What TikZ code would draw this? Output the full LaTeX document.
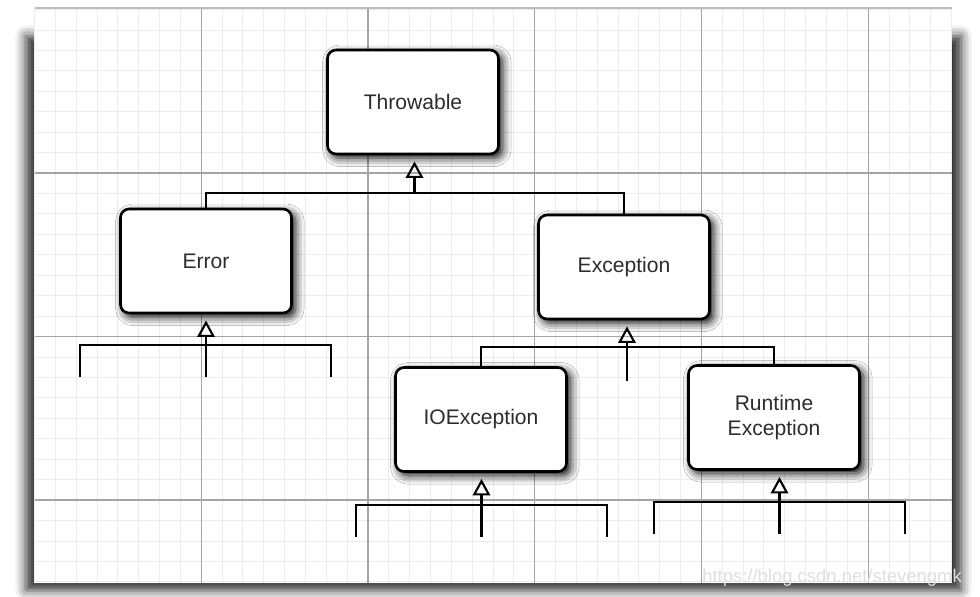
\documentclass[tikz,border=0pt]{standalone}
\usepackage{fontspec}
\setmainfont{Liberation Sans}
\usepackage{xcolor}
\definecolor{gridminor}{RGB}{236,236,236}
\definecolor{gridmajor}{RGB}{165,165,165}
\definecolor{inktext}{RGB}{45,45,45}
\usepackage{tikz}
\usetikzlibrary{arrows.meta, positioning, shadows.blur}

\begin{document}
\begin{tikzpicture}[
  x=0.02cm, y=-0.02cm,
  cls/.style={rectangle, rounded corners=0.17cm, draw=black, line width=1.5pt, fill=white,
    minimum width=3.42cm, minimum height=2.08cm, align=center, text=inktext,
    font=\fontsize{12}{14.5}\selectfont,
    blur shadow={shadow xshift=2.2pt, shadow yshift=-2.2pt, shadow blur radius=5pt, shadow opacity=100}},
  tree/.style={line width=1.2pt, draw=black},
  inherit/.style={tree, -{Triangle[open, length=0.33cm, width=0.35cm, line width=1.2pt]}, shorten >=3.5pt},
  minorline/.style={gridminor, line width=0.5pt},
  majorline/.style={gridmajor, line width=0.7pt}
]
\useasboundingbox (0,0) rectangle (980,596);

% Sheet shadow, sheet and grid
\path[blur shadow={shadow xshift=0pt, shadow yshift=0pt, shadow blur radius=6pt, shadow opacity=85}]
  (26,36) rectangle (961,590);
\fill[white] (35,8) rectangle (952,583);
\foreach \i in {0,...,44} \draw[minorline] ({34.5+\i*20.84},8) -- ({34.5+\i*20.84},583);
\foreach \j in {0,...,28} \draw[minorline] (35,{9.5+\j*20.44}) -- (952,{9.5+\j*20.44});
\foreach \i in {1,...,5} \draw[majorline] ({34.5+\i*166.75},8) -- ({34.5+\i*166.75},583);
\foreach \j in {1,...,3} \draw[majorline] (35,{9.5+\j*163.5}) -- (952,{9.5+\j*163.5});
\draw[gray!50, line width=0.6pt] (35,8) -- (952,8);

% Classes
\node[cls] (throwable) at (413,102) {Throwable};
\node[cls] (error) at (206,261) {Error};
\node[cls] (exception) at (624,267) {Exception};
\node[cls] (ioexc) at (481,419.5) {IOException};
\node[cls] (runtime) at (774,417.5) {Runtime\\Exception};

% Junctions and open ends
\coordinate (tj) at (414.5,193);
\coordinate (ej) at (206,345);
\coordinate (el) at (80,377);
\coordinate (er) at (331,377);
\coordinate (eb) at (206,377);
\coordinate (xj) at (627,347);
\coordinate (xb) at (627,381);
\coordinate (ij) at (481.5,505);
\coordinate (il) at (356,537);
\coordinate (ir) at (607,537);
\coordinate (ib) at (481.5,537);
\coordinate (rj) at (779.5,502);
\coordinate (rl) at (654,534);
\coordinate (rr) at (905,534);
\coordinate (rb) at (779.5,534);

% Inheritance
\draw[tree] (error.north) |- (tj) -| (exception.north);
\draw[inherit] (tj) -- (tj |- throwable.south);

\draw[tree] (el) |- (ej) -| (er);
\draw[inherit] (eb) -- (eb |- error.south);

\draw[tree] (ioexc.north) |- (xj) -| (runtime.north);
\draw[inherit] (xb) -- (xb |- exception.south);

\draw[tree] (il) |- (ij) -| (ir);
\draw[inherit] (ib) -- (ib |- ioexc.south);

\draw[tree] (rl) |- (rj) -| (rr);
\draw[inherit] (rb) -- (rb |- runtime.south);

% Watermark
\node[text=gray!25, font=\fontsize{10.5}{12}\selectfont, anchor=east] (mark) at (968,578) {https://blog.csdn.net/stevengmk};

\end{tikzpicture}
\end{document}
